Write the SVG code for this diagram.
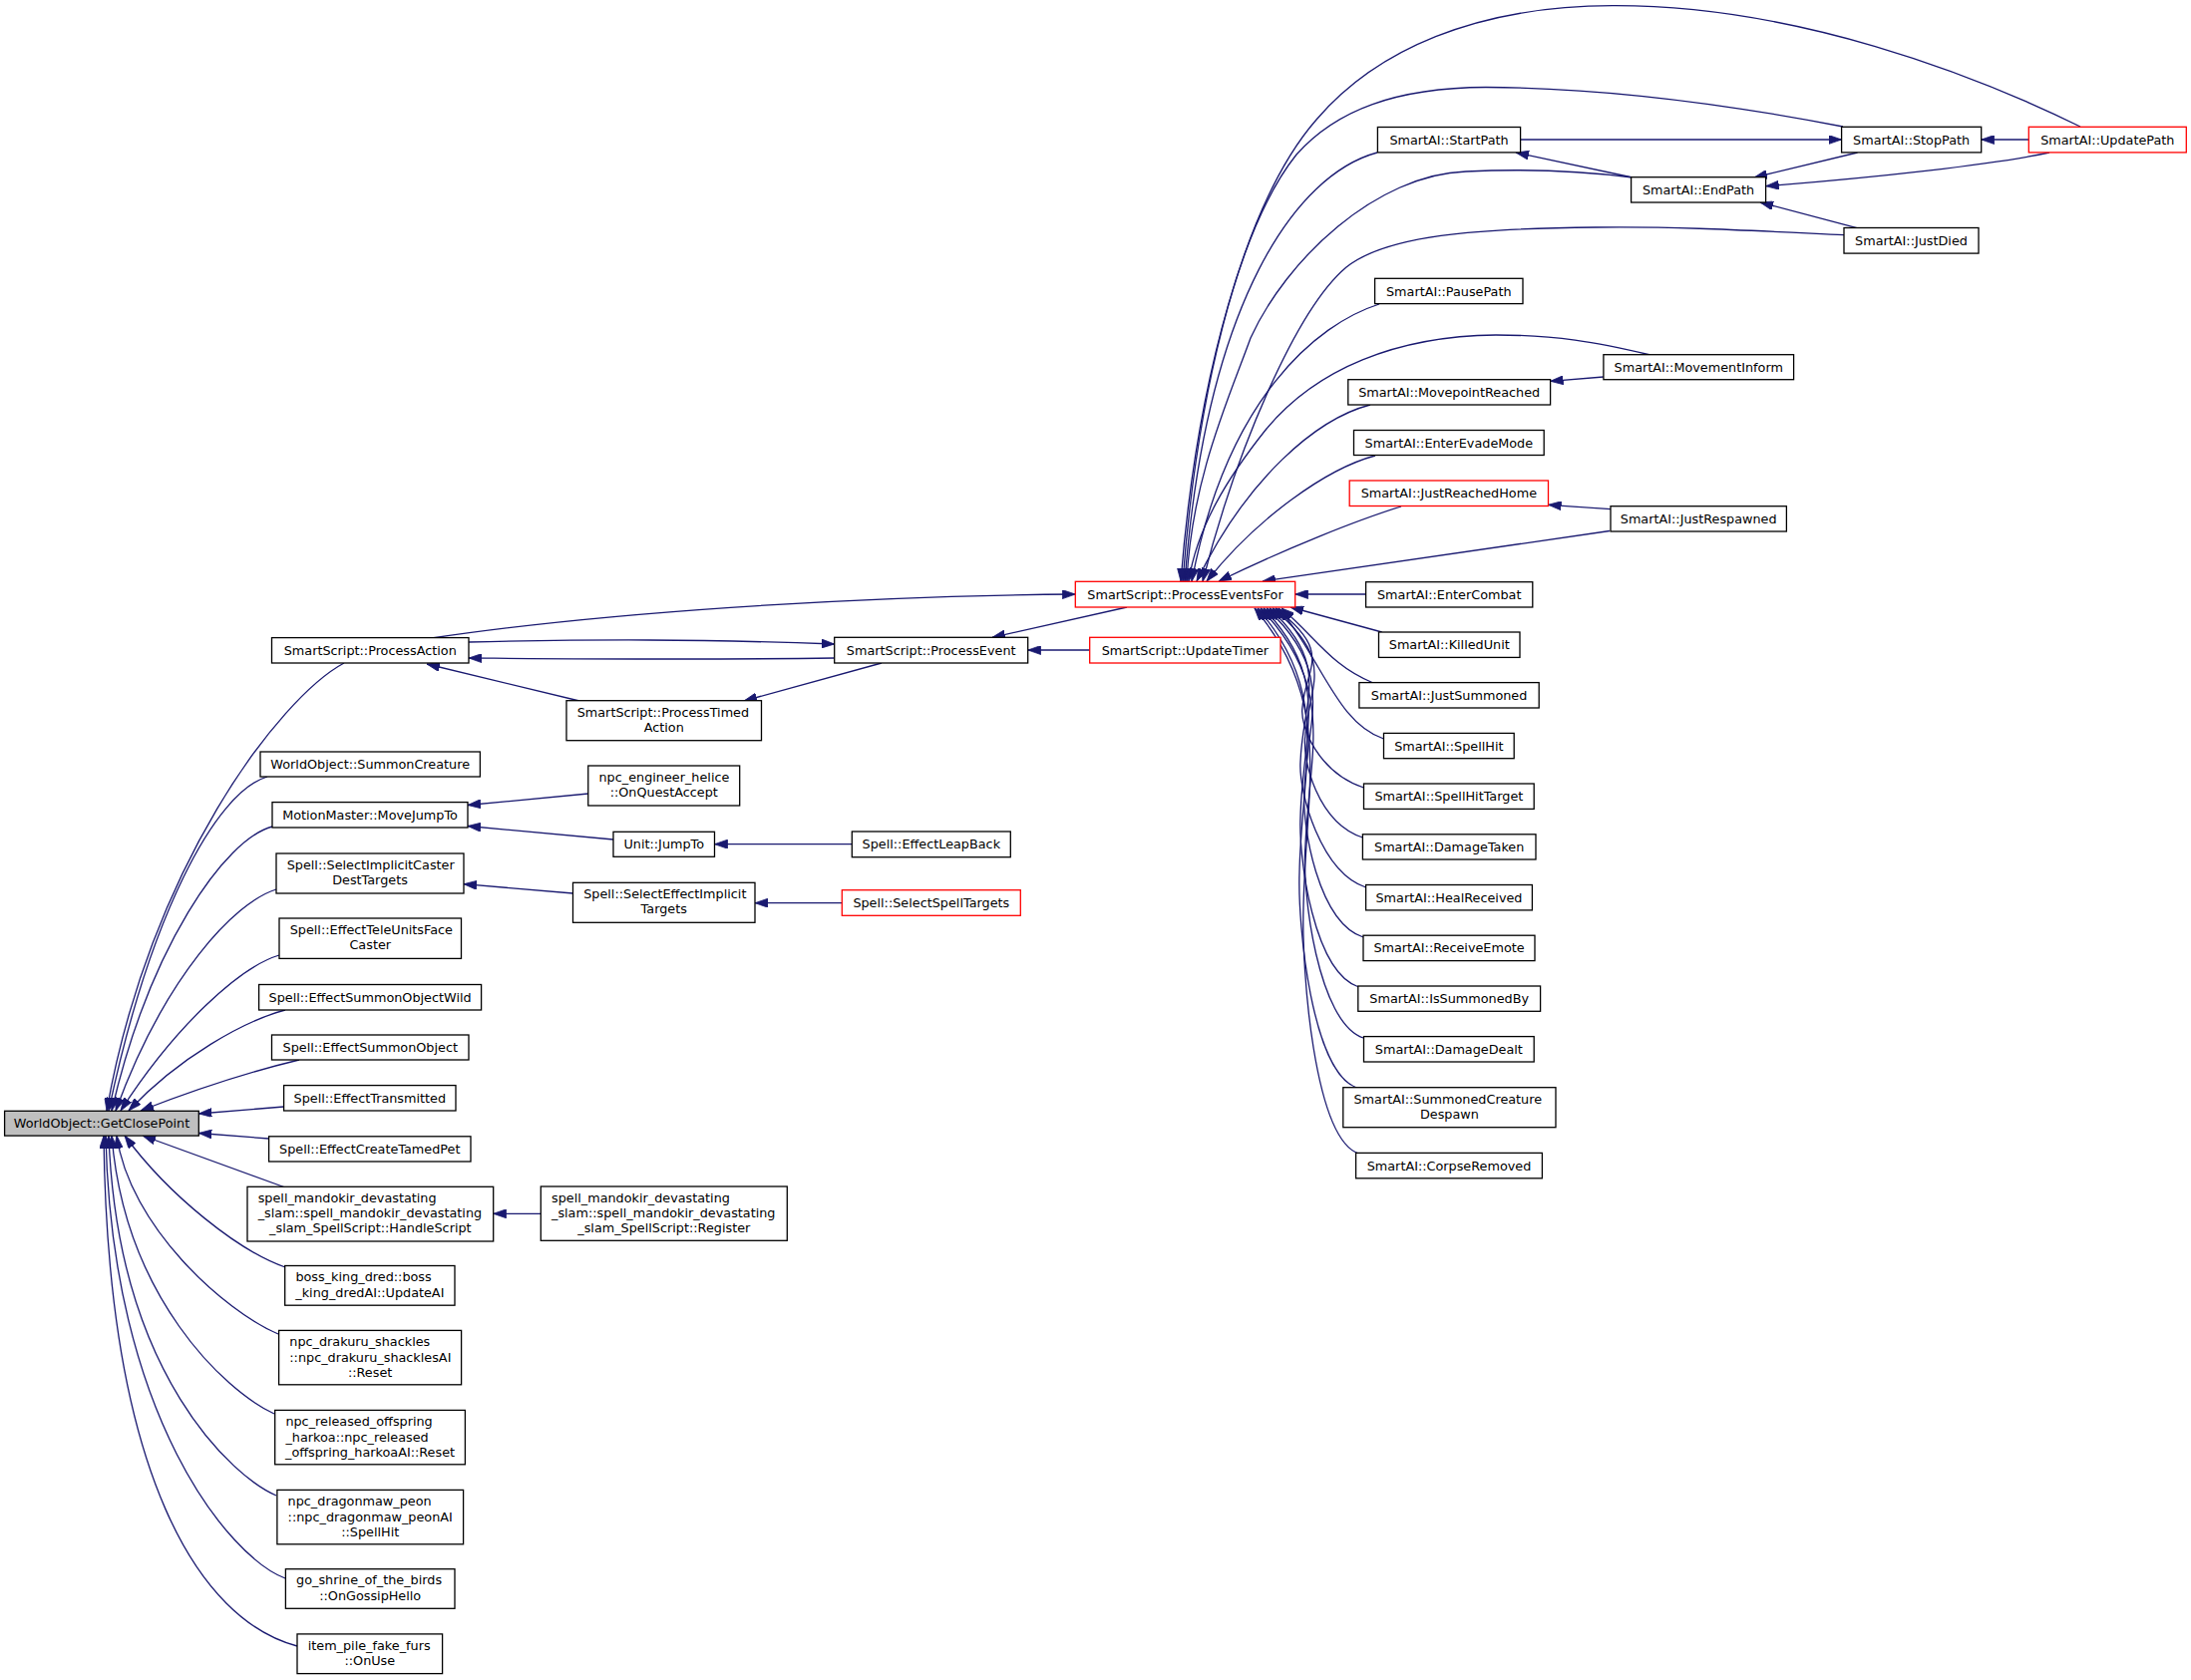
<svg xmlns="http://www.w3.org/2000/svg" width="2197" height="1685" viewBox="0 0 2197 1685">
<style>
.n rect{fill:#fff;stroke:#000;stroke-width:1.3}
.n.r rect{stroke:#ff0000}
.n.g rect{fill:#bfbfbf}
.n text{font-family:"DejaVu Sans","Liberation Sans",sans-serif;font-size:12.8px;fill:#000;text-anchor:middle}
.n text.l{text-anchor:start}
#edges path{fill:none;stroke:#191970;stroke-width:1.3;marker-end:url(#ah)}
</style>
<defs>
<marker id="ah" viewBox="0 0 13 9" refX="13" refY="4.5" markerWidth="13" markerHeight="9" markerUnits="userSpaceOnUse" orient="auto"><path d="M0,0 L13,4.5 L0,9 z" fill="#191970" stroke="#191970" stroke-width="0.8"/></marker>
</defs>
<rect width="2197" height="1685" fill="#fff"/>
<g id="edges">
<path d="M345,665 C280,700 150,870 107,1114"/>
<path d="M268,779 C215,795 150,920 109,1114"/>
<path d="M273,829 C225,842 150,950 112,1114"/>
<path d="M277,892 C235,905 165,980 116,1114"/>
<path d="M280,958 C240,970 175,1030 121,1114"/>
<path d="M286,1013 C245,1024 180,1060 129,1114"/>
<path d="M300,1063 C250,1075 190,1095 141,1114"/>
<path d="M284.6,1110 L199.3,1117"/>
<path d="M269.6,1142 L199.3,1136.5"/>
<path d="M286,1191 L143,1139"/>
<path d="M286,1271 C240,1255 170,1200 125,1139"/>
<path d="M279,1338 C225,1315 130,1230 117,1139"/>
<path d="M275,1418 C225,1395 125,1300 112,1139"/>
<path d="M277,1500 C235,1482 118,1380 109,1139"/>
<path d="M286,1583 C230,1562 112,1420 106,1139"/>
<path d="M298,1651 C200,1625 108,1480 104,1139"/>
<path d="M470,644 C600,641 700,641 836.7,646"/>
<path d="M836.7,660 C700,662 600,661 470,660"/>
<path d="M581,703 L428,666"/>
<path d="M433,640 C600,615 850,598 1078.3,596"/>
<path d="M1130,609 L995,639.3"/>
<path d="M1092.7,652 L1030.7,652"/>
<path d="M884,665 L746,703"/>
<path d="M590,796 L469,807.5"/>
<path d="M615,842 L469,828.5"/>
<path d="M854.3,846.7 L716.5,846.7"/>
<path d="M574.5,896 L465,886.7"/>
<path d="M844.3,905.7 L757,905.7"/>
<path d="M542.3,1217.3 L494.7,1217.3"/>
<path d="M1524.6,140 L1846.6,140"/>
<path d="M1637,178 L1520,153"/>
<path d="M1862.6,153 L1759,178"/>
<path d="M2055,153 C2000,165 1880,178 1770.7,186.7"/>
<path d="M1862,228.7 L1765,203"/>
<path d="M2034.3,140 L1986.7,140"/>
<path d="M1607.9,378 L1554.6,382.3"/>
<path d="M1615,510.7 L1552.5,506.3"/>
<path d="M1369.6,596 L1298.7,596"/>
<path d="M1385.7,634 L1294,609"/>
<path d="M1614,532.5 L1266,583"/>
<path d="M1405,508 C1360,522 1290,550 1222,583"/>
<path d="M1379,457 C1330,470 1260,520 1210,583"/>
<path d="M1374,406 C1320,420 1250,480 1200,583"/>
<path d="M1655,356 C1600,343 1560,336 1500,336 C1400,337 1320,370 1270,430 C1230,480 1200,530 1192,583"/>
<path d="M1383,305 C1320,325 1230,400 1195,583"/>
<path d="M1381,153 C1300,175 1210,300 1188,583"/>
<path d="M1637,178 C1590,172 1530,169 1470,172 C1380,175 1290,260 1254,339 C1232,400 1195,480 1190,583"/>
<path d="M1849,235.7 C1750,231 1680,227 1600,228 C1480,229 1390,236 1350,268 C1300,310 1240,450 1206,583"/>
<path d="M1848,127 C1750,108 1620,88 1490,87.5 C1400,88 1340,110 1300,155 C1240,230 1200,400 1186,583"/>
<path d="M2086,127 C1980,75 1800,5 1617,5.7 C1480,6 1380,50 1320,120 C1250,200 1200,380 1184,583"/>
<path d="M1377,685 C1335,668 1320,640 1285,610"/>
<path d="M1387.5,741 C1340,725 1325,660 1282,610"/>
<path d="M1367.5,790 C1322.5,775 1303,729 1306,709 C1309,669 1338,655 1279,610"/>
<path d="M1366.4,840 C1321.4,825 1305,762 1309,736.5 C1313,686 1340,662 1276,610"/>
<path d="M1369.6,890 C1324.6,875 1302,795 1304,764 C1306,702 1336,668 1273,610"/>
<path d="M1367,940 C1322,925 1305,829 1308,791.5 C1311,719 1340,675 1270,610"/>
<path d="M1362.5,990 C1317.5,975 1302,862 1304,819 C1306,735 1336,682 1267,610"/>
<path d="M1367,1041 C1322,1026 1305,896 1309,847 C1313,752 1340,689 1264,610"/>
<path d="M1360.7,1091 C1315.7,1076 1301,929 1303,874.5 C1305,769 1336,696 1261,610"/>
<path d="M1362.5,1157 C1317.5,1142 1305,972 1307,911 C1309,790 1338,705 1258,610"/>
</g>
<g id="gcp" class="n g"><rect x="4.6" y="1114.3" width="194.7" height="24.8"/><text x="102" y="1131.2">WorldObject::GetClosePoint</text></g>
<g id="pa" class="n"><rect x="272.5" y="639.6" width="197.5" height="25.4"/><text x="371.25" y="656.8">SmartScript::ProcessAction</text></g>
<g id="sc" class="n"><rect x="261" y="754" width="220.4" height="25"/><text x="371.2" y="771">WorldObject::SummonCreature</text></g>
<g id="mj" class="n"><rect x="273" y="804.6" width="196" height="25.4"/><text x="371" y="821.8">MotionMaster::MoveJumpTo</text></g>
<g id="sic" class="n"><rect x="277" y="856" width="188" height="40"/><text class="l" x="287.7" y="871.9">Spell::SelectImplicitCaster</text><text x="371" y="887.1">DestTargets</text></g>
<g id="etu" class="n"><rect x="280" y="921" width="182.5" height="40.4"/><text class="l" x="290.7" y="937.1">Spell::EffectTeleUnitsFace</text><text x="371.25" y="952.3">Caster</text></g>
<g id="esow" class="n"><rect x="259.6" y="987.5" width="223" height="25.5"/><text x="371.1" y="1004.7">Spell::EffectSummonObjectWild</text></g>
<g id="eso" class="n"><rect x="272.5" y="1038" width="197.5" height="25"/><text x="371.25" y="1055">Spell::EffectSummonObject</text></g>
<g id="et" class="n"><rect x="284.6" y="1088.6" width="172.4" height="25.4"/><text x="370.8" y="1105.8">Spell::EffectTransmitted</text></g>
<g id="ectp" class="n"><rect x="269.6" y="1139.8" width="202.4" height="25.2"/><text x="370.8" y="1156.9">Spell::EffectCreateTamedPet</text></g>
<g id="hs" class="n"><rect x="248" y="1190.3" width="246.7" height="54.7"/><text class="l" x="258.7" y="1206">spell_mandokir_devastating</text><text class="l" x="258.7" y="1221.2">_slam::spell_mandokir_devastating</text><text x="371.35" y="1236.4">_slam_SpellScript::HandleScript</text></g>
<g id="bkd" class="n"><rect x="285.7" y="1269.5" width="170.3" height="39.7"/><text class="l" x="296.4" y="1285.3">boss_king_dred::boss</text><text x="370.85" y="1300.5">_king_dredAI::UpdateAI</text></g>
<g id="dr" class="n"><rect x="279.6" y="1334.4" width="183" height="54.4"/><text class="l" x="290.3" y="1350.3">npc_drakuru_shackles</text><text class="l" x="290.3" y="1365.5">::npc_drakuru_shacklesAI</text><text x="371.1" y="1380.7">::Reset</text></g>
<g id="ro" class="n"><rect x="275.7" y="1414.4" width="190.7" height="54.4"/><text class="l" x="286.4" y="1430.3">npc_released_offspring</text><text class="l" x="286.4" y="1445.5">_harkoa::npc_released</text><text x="371.05" y="1460.7">_offspring_harkoaAI::Reset</text></g>
<g id="dp" class="n"><rect x="277.9" y="1494.4" width="186.7" height="54.4"/><text class="l" x="288.6" y="1510.3">npc_dragonmaw_peon</text><text class="l" x="288.6" y="1525.5">::npc_dragonmaw_peonAI</text><text x="371.25" y="1540.7">::SpellHit</text></g>
<g id="gs" class="n"><rect x="286.4" y="1573.7" width="169.6" height="39.6"/><text class="l" x="297.1" y="1589.4">go_shrine_of_the_birds</text><text x="371.2" y="1604.6">::OnGossipHello</text></g>
<g id="ip" class="n"><rect x="298" y="1638.9" width="145.6" height="39.7"/><text class="l" x="308.7" y="1654.6">item_pile_fake_furs</text><text x="370.8" y="1669.8">::OnUse</text></g>
<g id="pta" class="n"><rect x="568" y="702.7" width="195.5" height="40"/><text class="l" x="578.7" y="718.6">SmartScript::ProcessTimed</text><text x="665.75" y="733.8">Action</text></g>
<g id="heli" class="n"><rect x="589.8" y="768" width="151.9" height="40"/><text class="l" x="600.5" y="783.9">npc_engineer_helice</text><text x="665.75" y="799.1">::OnQuestAccept</text></g>
<g id="jt" class="n"><rect x="615" y="834.3" width="101.5" height="25"/><text x="665.75" y="851.3">Unit::JumpTo</text></g>
<g id="sei" class="n"><rect x="574.5" y="885.3" width="182.5" height="40"/><text class="l" x="585.2" y="901.2">Spell::SelectEffectImplicit</text><text x="665.75" y="916.4">Targets</text></g>
<g id="reg" class="n"><rect x="542.3" y="1190" width="247" height="54.3"/><text class="l" x="553" y="1205.7">spell_mandokir_devastating</text><text class="l" x="553" y="1220.9">_slam::spell_mandokir_devastating</text><text x="665.8" y="1236.1">_slam_SpellScript::Register</text></g>
<g id="pe" class="n"><rect x="836.7" y="639.3" width="194" height="25.7"/><text x="933.7" y="656.6">SmartScript::ProcessEvent</text></g>
<g id="lb" class="n"><rect x="854.3" y="834" width="159" height="25.7"/><text x="933.8" y="851.3">Spell::EffectLeapBack</text></g>
<g id="sst" class="n r"><rect x="844.3" y="892.7" width="179" height="25.6"/><text x="933.8" y="910">Spell::SelectSpellTargets</text></g>
<g id="pef" class="n r"><rect x="1078.3" y="583.3" width="220.4" height="25.7"/><text x="1188.5" y="600.6">SmartScript::ProcessEventsFor</text></g>
<g id="ut" class="n r"><rect x="1092.7" y="639.3" width="191.3" height="25.7"/><text x="1188.35" y="656.6">SmartScript::UpdateTimer</text></g>
<g id="stp" class="n"><rect x="1381.4" y="127.5" width="143.2" height="25.4"/><text x="1453" y="144.7">SmartAI::StartPath</text></g>
<g id="pp" class="n"><rect x="1378.6" y="279.3" width="148.4" height="25.3"/><text x="1452.8" y="296.5">SmartAI::PausePath</text></g>
<g id="mr" class="n"><rect x="1351.8" y="380.7" width="202.8" height="25.3"/><text x="1453.2" y="397.9">SmartAI::MovepointReached</text></g>
<g id="eem" class="n"><rect x="1357.5" y="431.5" width="190.7" height="25"/><text x="1452.85" y="448.5">SmartAI::EnterEvadeMode</text></g>
<g id="jrh" class="n r"><rect x="1353.2" y="482" width="199.3" height="25.5"/><text x="1452.85" y="499.2">SmartAI::JustReachedHome</text></g>
<g id="ec" class="n"><rect x="1369.6" y="583.7" width="167.2" height="25.3"/><text x="1453.2" y="600.9">SmartAI::EnterCombat</text></g>
<g id="ku" class="n"><rect x="1382.5" y="634" width="141.5" height="25.4"/><text x="1453.25" y="651.2">SmartAI::KilledUnit</text></g>
<g id="js" class="n"><rect x="1362.9" y="684.6" width="180.3" height="25.4"/><text x="1453.05" y="701.8">SmartAI::JustSummoned</text></g>
<g id="sh" class="n"><rect x="1387.5" y="735.4" width="130.7" height="25.3"/><text x="1452.85" y="752.6">SmartAI::SpellHit</text></g>
<g id="sht" class="n"><rect x="1367.5" y="786" width="170.7" height="25.4"/><text x="1452.85" y="803.2">SmartAI::SpellHitTarget</text></g>
<g id="dt" class="n"><rect x="1366.4" y="836.8" width="173.6" height="25.2"/><text x="1453.2" y="853.9">SmartAI::DamageTaken</text></g>
<g id="hr" class="n"><rect x="1369.6" y="887.5" width="166.8" height="25.4"/><text x="1453" y="904.7">SmartAI::HealReceived</text></g>
<g id="re" class="n"><rect x="1367" y="938.2" width="172" height="25.4"/><text x="1453" y="955.4">SmartAI::ReceiveEmote</text></g>
<g id="isb" class="n"><rect x="1361.8" y="989" width="182.8" height="25.3"/><text x="1453.2" y="1006.2">SmartAI::IsSummonedBy</text></g>
<g id="dd" class="n"><rect x="1367.5" y="1039.6" width="170.7" height="25.4"/><text x="1452.85" y="1056.8">SmartAI::DamageDealt</text></g>
<g id="scd" class="n"><rect x="1346.8" y="1090.7" width="213.2" height="40"/><text class="l" x="1357.5" y="1106.6">SmartAI::SummonedCreature</text><text x="1453.4" y="1121.8">Despawn</text></g>
<g id="cr" class="n"><rect x="1359.6" y="1156.4" width="186.8" height="25.4"/><text x="1453" y="1173.6">SmartAI::CorpseRemoved</text></g>
<g id="ep" class="n"><rect x="1635.6" y="177.7" width="135" height="25.3"/><text x="1703.1" y="194.9">SmartAI::EndPath</text></g>
<g id="mi" class="n"><rect x="1607.9" y="355.7" width="190.7" height="25"/><text x="1703.25" y="372.7">SmartAI::MovementInform</text></g>
<g id="jr" class="n"><rect x="1615" y="507.7" width="176.4" height="25.3"/><text x="1703.2" y="524.9">SmartAI::JustRespawned</text></g>
<g id="stop" class="n"><rect x="1846.6" y="127.3" width="140.1" height="25.6"/><text x="1916.65" y="144.6">SmartAI::StopPath</text></g>
<g id="jd" class="n"><rect x="1849" y="228.5" width="135" height="25.6"/><text x="1916.5" y="245.8">SmartAI::JustDied</text></g>
<g id="up" class="n r"><rect x="2034.3" y="127.3" width="158" height="25.6"/><text x="2113.3" y="144.6">SmartAI::UpdatePath</text></g>
</svg>
